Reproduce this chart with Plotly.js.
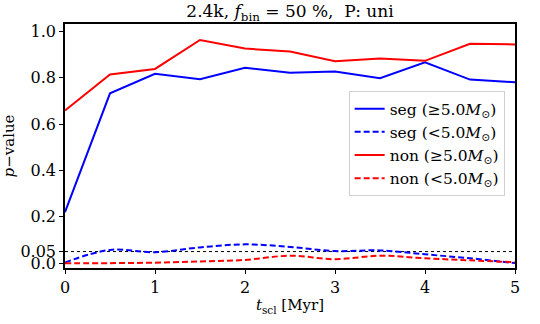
<!DOCTYPE html>
<html>
<head>
<meta charset="utf-8">
<script src="https://cdn.plot.ly/plotly-3.0.1.min.js"></script>
<style>
  html, body { margin: 0; padding: 0; background: #fff; }
  #chart { width: 540px; height: 324px; }
</style>
</head>
<body>
<div id="chart"></div>
<script>
/* p-value vs t_scl, 2.4k / f_bin 50% / P: uni */

const tScl = [0, 0.5, 1, 1.5, 2, 2.5, 3, 3.5, 4, 4.5, 5];

const segHigh = [0.22, 0.733, 0.817, 0.794, 0.843, 0.822, 0.827, 0.798, 0.867, 0.792, 0.781];
const segLow  = [0.003, 0.057, 0.047, 0.068, 0.081, 0.070, 0.052, 0.055, 0.038, 0.021, 0.0];
const nonHigh = [0.659, 0.814, 0.838, 0.963, 0.926, 0.913, 0.871, 0.883, 0.873, 0.947, 0.944];
const nonLow  = [0.0, 0.0, 0.002, 0.007, 0.014, 0.032, 0.017, 0.032, 0.021, 0.012, 0.004];

const pThreshold = 0.05;

const yTickVals = [0, 0.05, 0.2, 0.4, 0.6, 0.8, 1.0];
const yTickText = ['0.0', '0.05', '0.2', '0.4', '0.6', '0.8', '1.0'];
const xTickVals = [0, 1, 2, 3, 4, 5];

const FONT = 'DejaVu Serif, serif';
const MSUN = '<i>M</i><sub>⊙</sub>';

function series(y, name, color, dashed) {
  return {
    x: tScl, y: y, name: name,
    type: 'scatter', mode: 'lines',
    line: { color: color, width: 2, dash: dashed ? '6px,3px' : 'solid', shape: dashed ? 'spline' : 'linear' },
  };
}

const traces = [
  {
    x: [tScl[0], tScl[tScl.length - 1]], y: [pThreshold, pThreshold],
    type: 'scatter', mode: 'lines', showlegend: false, hoverinfo: 'skip',
    line: { color: '#000', width: 1, dash: 'dot' },
  },
  series(segHigh, 'seg (≥5.0' + MSUN + ')', '#0000ff', false),
  series(segLow,  'seg (<5.0' + MSUN + ')', '#0000ff', true),
  series(nonHigh, 'non (≥5.0' + MSUN + ')', '#ff0000', false),
  series(nonLow,  'non (<5.0' + MSUN + ')', '#ff0000', true),
];

const layout = {
  width: 540, height: 324,
  paper_bgcolor: '#fff', plot_bgcolor: '#fff',
  font: { family: FONT, color: '#000', size: 16 },
  margin: { t: 24, r: 25, b: 56, l: 65 },
  title: {
    text: '2.4k, <i>f</i><sub>bin</sub> = 50 %,  P: uni',
    x: 0.537, xanchor: 'center', y: 0.965, yanchor: 'middle',
    font: { size: 17 },
  },
  xaxis: {
    range: [0, 5], tickvals: xTickVals,
    showgrid: false, zeroline: false,
    showline: true, mirror: true, linecolor: '#000', linewidth: 1.5,
    ticks: 'outside', ticklen: 4, tickwidth: 1.2, tickcolor: '#000',
    title: { text: '<i>t</i><sub>scl</sub> [Myr]', standoff: 4, font: { size: 15 } },
  },
  yaxis: {
    range: [-0.021, 1.032], tickvals: yTickVals, ticktext: yTickText,
    showgrid: false, zeroline: false,
    showline: true, mirror: true, linecolor: '#000', linewidth: 1.5,
    ticks: 'outside', ticklen: 4, tickwidth: 1.2, tickcolor: '#000',
    title: { text: '<i>p</i>−value', standoff: 6, font: { size: 15 } },
  },
  legend: {
    x: 0.977, xanchor: 'right', y: 0.725, yanchor: 'top',
    bgcolor: 'rgba(255,255,255,0.85)', bordercolor: '#d0d0d0', borderwidth: 1,
    font: { size: 15.5 }, tracegroupgap: 0, itemwidth: 30,
  },
  showlegend: true,
};

Plotly.newPlot('chart', traces, layout, { displayModeBar: false, responsive: false });
</script>
</body>
</html>
